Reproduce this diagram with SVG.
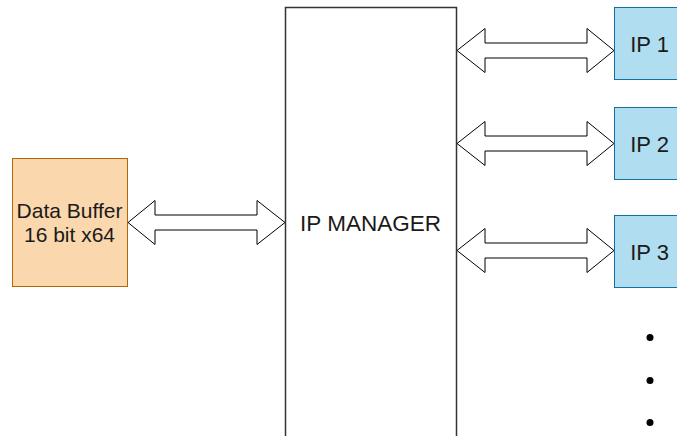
<svg xmlns="http://www.w3.org/2000/svg" width="677" height="436" viewBox="0 0 677 436">
  <style>
    text { font-family: "Liberation Sans", Arial, sans-serif; fill: #1a1a1a; text-anchor: middle; }
    .ip rect { fill: #b1ddf0; stroke: #10739e; stroke-width: 1; }
    .ip text { font-size: 22px; }
    .flex { fill: #ffffff; stroke: #000000; stroke-width: 1; stroke-linejoin: miter; }
    .dot { fill: #000000; }
  </style>
  <rect width="677" height="436" fill="#ffffff"/>

  <!-- bidirectional block arrows -->
  <g id="connectors">
    <path class="flex" d="M128,222.5 L155,200.5 L155,215 L257,215 L257,200.5 L285,222.5 L257,244.5 L257,230 L155,230 L155,244.5 Z"/>
    <path class="flex" d="M457,50.5 L485,28.5 L485,43 L587,43 L587,28.5 L614,50.5 L587,72.5 L587,58 L485,58 L485,72.5 Z"/>
    <path class="flex" d="M457,143.5 L485,121.5 L485,136 L587,136 L587,121.5 L614,143.5 L587,165.5 L587,151 L485,151 L485,165.5 Z"/>
    <path class="flex" d="M457,250.5 L485,228.5 L485,243 L587,243 L587,228.5 L614,250.5 L587,272.5 L587,258 L485,258 L485,272.5 Z"/>
  </g>

  <g id="data-buffer">
    <rect x="12.5" y="158.5" width="115" height="128" fill="#fad7ac" stroke="#b46504" stroke-width="1"/>
    <text x="69.5" y="217.5" font-size="21">Data Buffer</text>
    <text x="69.5" y="241.5" font-size="21">16 bit x64</text>
  </g>

  <g id="ip-manager">
    <rect x="285.5" y="7.5" width="171" height="440" fill="#ffffff" stroke="#333333" stroke-width="1.5"/>
    <text x="370.5" y="230.5" font-size="22.5">IP MANAGER</text>
  </g>

  <g id="ip1" class="ip">
    <rect x="614.5" y="7.5" width="70" height="72"/>
    <text x="649.5" y="51.5">IP 1</text>
  </g>

  <g id="ip2" class="ip">
    <rect x="614.5" y="107.5" width="70" height="72"/>
    <text x="649.5" y="151.5">IP 2</text>
  </g>

  <g id="ip3" class="ip">
    <rect x="614.5" y="215.5" width="70" height="72"/>
    <text x="649.5" y="259.5">IP 3</text>
  </g>

  <g id="ellipsis">
    <circle class="dot" cx="650" cy="337.5" r="3.5"/>
    <circle class="dot" cx="650" cy="380.5" r="3.5"/>
    <circle class="dot" cx="650" cy="422.5" r="3.5"/>
  </g>
</svg>
